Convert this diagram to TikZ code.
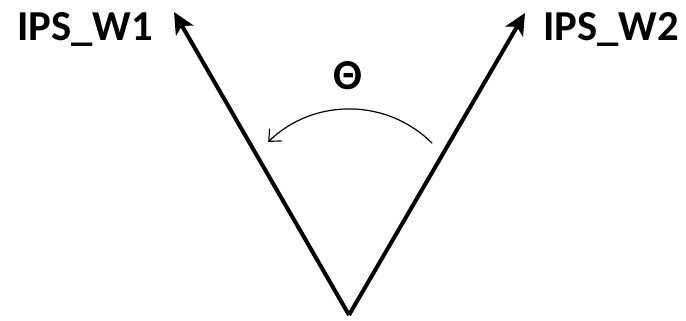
\documentclass[tikz,border=0pt]{standalone}
\usepackage{fontspec}
\setmainfont{Carlito}
\usepackage{xcolor}
\definecolor{vecLine}{HTML}{000000}
\usetikzlibrary{arrows.meta}

\tikzset{
  vecarrow/.style={draw=vecLine, line width=3pt, -{Stealth[length=16pt, width=15pt, inset=4pt]}},
  anglearrow/.style={draw=vecLine, line width=0.9pt, -{Straight Barb[length=7pt, width=13pt, line width=0.9pt]}},
  veclabel/.style={font=\fontsize{32}{36}\selectfont\bfseries, anchor=base, inner sep=0pt}
}

\begin{document}
\begin{tikzpicture}[x=0.75pt, y=0.75pt]
  \useasboundingbox (0,0) rectangle (686,321);
  \coordinate (origin) at (349,6);
  \coordinate (w1tip) at (174,309);
  \coordinate (w2tip) at (525,308);
  \coordinate (arcstart) at (432.2,177.7);
  \draw[vecarrow] (origin) -- (w1tip);
  \draw[vecarrow] (origin) -- (w2tip);
  \draw[anglearrow] (arcstart) arc[start angle=45, end angle=134, radius=117];
  \node[veclabel] (w1label) at (85,280) {IPS\_W1};
  \node[veclabel] (w2label) at (611,280) {IPS\_W2};
  \node[veclabel] (theta) at (348,231) {Θ};
\end{tikzpicture}
\end{document}
